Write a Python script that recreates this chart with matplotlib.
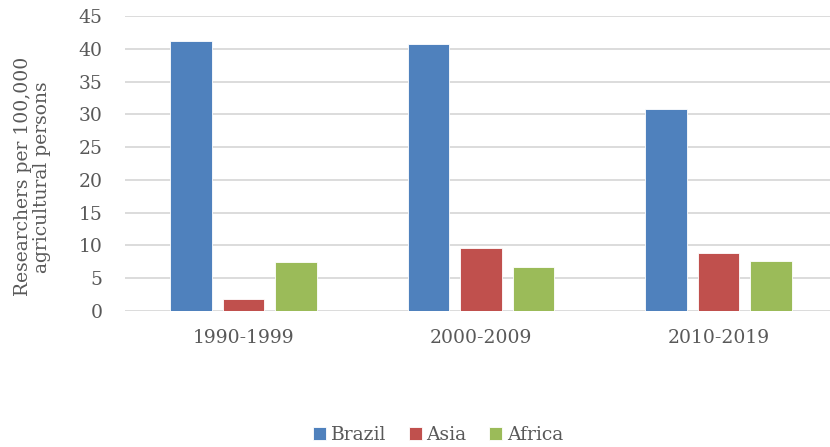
import numpy as np
import matplotlib.pyplot as plt

plt.switch_backend('Agg')

periods = ['1990-1999', '2000-2009', '2010-2019']
brazil = [41.2, 40.8, 30.8]
asia = [1.8, 9.6, 8.8]
africa = [7.4, 6.7, 7.7]

series = [('Brazil', brazil, '#4F81BD'),
          ('Asia', asia, '#C0504D'),
          ('Africa', africa, '#9BBB59')]

text_color = '#595959'
fsize = 13.5
plt.rcParams['font.family'] = ['DejaVu Serif']

fig = plt.figure(figsize=(8.3, 4.47), dpi=100)
# axes runs slightly past the right edge of the canvas
ax = fig.add_axes([125 / 830, 1 - 311 / 447, 712 / 830, 295 / 447])

x = np.arange(len(periods))
width = 0.175
step = 0.221
for i, (name, vals, color) in enumerate(series):
    ax.bar(x + (i - 1) * step, vals, width, color=color, label=name,
           edgecolor='#ffffff', linewidth=0.6, zorder=3)

ax.set_xlim(-0.5, 2.5)
ax.set_ylim(0, 45)
ax.set_yticks(range(0, 46, 5))
ax.set_xticks(x)
ax.set_xticklabels(periods)
ax.grid(axis='y', color='#D9D9D9', linewidth=1.3, zorder=0)
ax.set_axisbelow(True)
for s in ax.spines.values():
    s.set_visible(False)
ax.tick_params(axis='both', length=0, labelsize=fsize, colors=text_color)
ax.tick_params(axis='x', pad=13)
ax.tick_params(axis='y', pad=16)

ax.set_ylabel('Researchers per 100,000\nagricultural persons',
              fontsize=fsize, color=text_color, linespacing=1.1)
ax.yaxis.set_label_coords(-0.104, 0.455)

handles, labels = ax.get_legend_handles_labels()
fig.legend(handles, labels, loc='center', bbox_to_anchor=(438 / 830, 1 - 435 / 447),
           ncol=3, frameon=False, fontsize=fsize, labelcolor=text_color,
           handlelength=0.7, handleheight=0.7, handletextpad=0.25, columnspacing=1.2)

fig.savefig('out.png', dpi=100)
plt.close(fig)
